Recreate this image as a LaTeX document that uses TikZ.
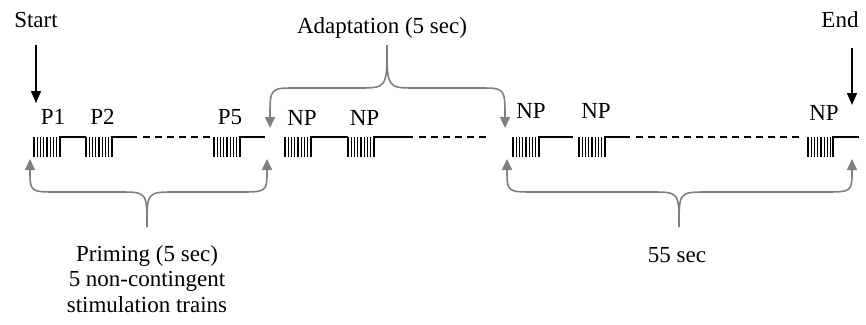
\documentclass[tikz,border=0pt]{standalone}
\usepackage{fontspec}
\setmainfont{Liberation Serif}
\usetikzlibrary{arrows.meta}
\definecolor{bracegray}{RGB}{128,128,128}
\tikzset{
  lbl/.style={inner sep=0pt, anchor=base, font=\fontsize{23}{25.5}\selectfont},
  wire/.style={line width=1.8pt, black},
  dashwire/.style={line width=1.8pt, black, dash pattern=on 7pt off 5pt},
  bar/.style={line width=1.4pt, black},
  brace/.style={line width=1.6pt, bracegray, -{Triangle[length=11pt,width=10pt]}},
  marker/.style={line width=1.5pt, black, -{Triangle[length=12pt,width=10pt]}},
  train/.pic={\foreach \i in {0,...,7} \draw[bar] (\i*3.25,0) -- (\i*3.25,20);}
}
\begin{document}
\begin{tikzpicture}[x=1pt,y=-1pt]
\useasboundingbox (0,0) rectangle (866,324);
% texts
\node[lbl] (start) at (36,27) {Start};
\node[lbl] (endt) at (840,27) {End};
\node[lbl] (adapt) at (382,33) {Adaptation (5 sec)};
\node[lbl] (p1) at (53,124) {P1};
\node[lbl] (p2) at (102.5,124) {P2};
\node[lbl] (p5) at (230,124) {P5};
\node[lbl] (np1) at (302,125) {NP};
\node[lbl] (np2) at (364.5,125) {NP};
\node[lbl] (np3) at (531,118.5) {NP};
\node[lbl] (np4) at (596,118.5) {NP};
\node[lbl] (np5) at (824,120) {NP};
\node[lbl, align=center, anchor=north] (prim) at (147,245) {Priming (5 sec)\\5 non-contingent\\stimulation trains};
\node[lbl] (fiftyfive) at (677,262.5) {55 sec};
% start / end markers
\coordinate (sA) at (36,45); \coordinate (sB) at (36,103);
\coordinate (eA) at (852,48); \coordinate (eB) at (852,105);
\draw[marker] (sA) -- (sB);
\draw[marker] (eA) -- (eB);
% trains
\foreach \x in {34,86,214,285,348,513,579,808} \pic at (\x,137) {train};
% wires section 1
\draw[wire] (60,157) -- (60,137) -- (86,137);
\draw[wire] (112,157) -- (112,137) -- (137,137);
\draw[dashwire] (143,137) -- (210,137);
\draw[wire] (240,157) -- (240,137) -- (265,137);
% section 2
\draw[wire] (311,157) -- (311,137) -- (348,137);
\draw[wire] (374,157) -- (374,137) -- (413,137);
\draw[dashwire] (419,137) -- (490,137);
% section 3
\draw[wire] (539,157) -- (539,137) -- (573,137);
\draw[wire] (605,157) -- (605,137) -- (630,137);
\draw[dashwire] (636,137) -- (800,137);
\draw[wire] (833,157) -- (833,137) -- (859,137);
% adaptation brace
\coordinate (apk) at (387,45);
\coordinate (atl) at (270,128);
\coordinate (atr) at (505,128);
\draw[brace] (apk) .. controls (387,88) .. (358,88) -- (296,88) .. controls (270,88) .. (atl);
\draw[brace] (apk) .. controls (387,88) .. (416,88) -- (479,88) .. controls (505,88) .. (atr);
% priming brace
\coordinate (ppk) at (147,227);
\coordinate (ptl) at (30,159);
\coordinate (ptr) at (267,159);
\draw[brace] (ppk) .. controls (147,192) .. (119,192) -- (58,192) .. controls (30,192) .. (ptl);
\draw[brace] (ppk) .. controls (147,192) .. (175,192) -- (239,192) .. controls (267,192) .. (ptr);
% 55 sec brace
\coordinate (fpk) at (679,227);
\coordinate (ftl) at (507,159);
\coordinate (ftr) at (852,159);
\draw[brace] (fpk) .. controls (679,192) .. (651,192) -- (535,192) .. controls (507,192) .. (ftl);
\draw[brace] (fpk) .. controls (679,192) .. (707,192) -- (824,192) .. controls (852,192) .. (ftr);
\end{tikzpicture}
\end{document}
